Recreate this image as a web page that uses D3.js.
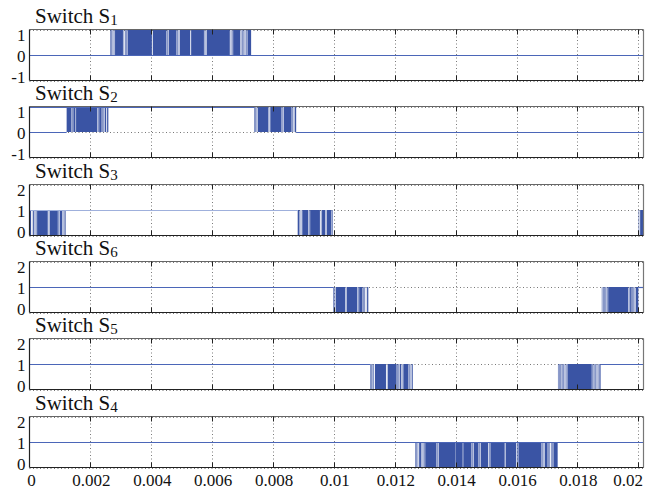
<!DOCTYPE html>
<html>
<head>
<meta charset="utf-8">
<script src="https://cdn.jsdelivr.net/npm/d3@7/dist/d3.min.js"></script>
<style>
  html, body { margin: 0; padding: 0; background: #fff; }
  svg { display: block; }
</style>
</head>
<body>
<svg id="chart" width="665" height="488"></svg>
<script>
// ---- Data (time in milliseconds) ----
const panelNames = ["Switch S", "Switch S", "Switch S", "Switch S", "Switch S", "Switch S"];
const panelSubscripts = ["1", "2", "3", "6", "5", "4"];

const xTickValues = [0, 2, 4, 6, 8, 10, 12, 14, 16, 18, 20];
const xTickLabels = ["0", "0.002", "0.004", "0.006", "0.008", "0.01", "0.012", "0.014", "0.016", "0.018", "0.02"];
const xDomain = [0, 20.17];

const yTicksBipolar = [-1, 0, 1];
const yTicksUnipolar = [0, 1, 2];

// gate-pulse "on" intervals [start, end] (ms); pulses go between 0 and 1
const s1Pulses = [[2.65,2.67],[2.69,2.71],[2.73,2.75],[2.77,2.79],[2.81,3.07],[3.09,3.11],[3.14,3.16],[3.18,3.20],[3.22,4.02],[4.05,4.50],[4.53,4.55],[4.57,4.83],[4.85,4.87],[4.90,4.92],[4.94,5.28],[5.31,5.73],[5.75,5.77],[5.79,5.81],[5.83,6.58],[6.61,6.63],[6.65,6.67],[6.69,6.92],[6.94,6.96],[6.99,7.01],[7.03,7.05],[7.07,7.09],[7.12,7.14],[7.16,7.28]];
const s2Pulses = [[1.22,1.38],[1.40,1.42],[1.44,1.51],[1.53,2.23],[2.25,2.27],[2.29,2.37],[2.39,2.41],[2.43,2.45],[2.47,2.52],[2.55,2.59],
  [7.38,7.40],[7.42,7.44],[7.46,7.48],[7.50,7.85],[7.88,7.89],[7.91,8.28],[8.31,8.33],[8.35,8.61],[8.63,8.65],[8.68,8.70],[8.72,8.76]];
const s3Pulses = [[0,0.05],[0.08,0.09],[0.12,0.15],[0.17,0.19],[0.21,0.23],[0.25,0.60],[0.62,0.63],[0.66,0.93],[0.95,0.97],[0.99,1.07],[1.09,1.11],[1.13,1.15],[1.17,1.19],
  [8.81,8.87],[8.89,8.90],[8.93,8.94],[8.96,9.16],[9.18,9.20],[9.22,9.54],[9.57,9.59],[9.61,9.71],[9.73,9.75],[9.77,9.92],[9.94,9.96],
  [20.01,20.03],[20.06,20.17]];
const s6Pulses = [[9.98,10.00],[10.02,10.04],[10.06,10.37],[10.39,10.41],[10.43,10.77],[10.79,10.81],[10.83,10.94],[10.96,10.98],[11.00,11.02],[11.05,11.06],[11.09,11.13],
  [18.80,18.82],[18.84,18.86],[18.88,18.90],[18.92,18.94],[18.96,18.99],[19.01,19.67],[19.69,19.71],[19.73,19.78],[19.80,19.82],[19.84,19.86],[19.88,19.90],[19.92,20.00]];
const s5Pulses = [[11.19,11.21],[11.23,11.25],[11.27,11.29],[11.30,11.32],[11.35,11.71],[11.74,11.75],[11.77,12.06],[12.08,12.10],[12.12,12.14],[12.16,12.21],[12.23,12.25],[12.28,12.45],[12.47,12.49],[12.52,12.54],[12.56,12.59],
  [17.36,17.38],[17.40,17.42],[17.43,17.45],[17.48,17.51],[17.53,17.55],[17.58,17.60],[17.62,17.64],[17.67,18.47],[18.49,18.51],[18.53,18.56],[18.58,18.60],[18.63,18.65],[18.67,18.69],[18.72,18.76]];
const s4Pulses = [[12.67,12.69],[12.71,12.73],[12.75,12.77],[12.80,12.86],[12.88,12.90],[12.92,12.94],[12.96,12.98],[13.00,13.37],[13.40,13.42],[13.44,14.00],[14.01,14.23],[14.25,14.52],[14.54,14.56],[14.59,14.75],[14.77,14.79],[14.82,15.07],[15.10,15.12],[15.14,15.61],[15.64,15.99],[16.02,16.04],[16.06,16.82],[16.85,16.87],[16.89,16.91],[16.93,17.02],[17.04,17.06],[17.08,17.10],[17.13,17.15],[17.17,17.19],[17.21,17.35]];

// steady signal levels outside bursts: [start, end, level]
const s1Levels = [[0, 20.17, 0]];
const s2Levels = [[0, 1.22, 0], [0, 7.38, 1], [8.76, 20.17, 0]];
const s3Levels = [[0, 8.81, 1]];
const s6Levels = [[0, 9.98, 1], [20.00, 20.17, 1]];
const s5Levels = [[0, 11.19, 1], [18.76, 20.17, 1]];
const s4Levels = [[0, 20.17, 1]];

const panelPulses = [s1Pulses, s2Pulses, s3Pulses, s6Pulses, s5Pulses, s4Pulses];
const panelLevels = [s1Levels, s2Levels, s3Levels, s6Levels, s5Levels, s4Levels];
const panelYTicks = [yTicksBipolar, yTicksBipolar, yTicksUnipolar, yTicksUnipolar, yTicksUnipolar, yTicksUnipolar];

// ---- Drawing ----
const svg = d3.select("#chart");
const left = 29.5, right = 643.5;
const panelH = 51;
const panelTops = d3.range(6).map(i => Math.round(29 + i * 77.3) + 0.5);
const serif = "'Liberation Serif', 'Times New Roman', serif";
const pulseColor = "#3a54a4";
const lineColor = "#4b66b8";
const lightLine = "#9fb0dc";

const x = d3.scaleLinear().domain(xDomain).range([left, right]);

panelTops.forEach((top, i) => {
  const ticks = panelYTicks[i];
  const y = d3.scaleLinear().domain(d3.extent(ticks)).range([top + panelH, top]);
  const g = svg.append("g");

  // vertical grid (dotted)
  g.selectAll(".vg").data(xTickValues.slice(1)).enter().append("line")
    .attr("x1", d => Math.round(x(d)) + 0.5).attr("x2", d => Math.round(x(d)) + 0.5)
    .attr("y1", top).attr("y2", top + panelH)
    .attr("stroke", "#7a7a7a").attr("stroke-width", 1).attr("stroke-dasharray", "1,2.5");
  // horizontal grid (dotted)
  g.selectAll(".hg").data(ticks).enter().append("line")
    .attr("x1", left).attr("x2", right)
    .attr("y1", d => Math.round(y(d)) + 0.5).attr("y2", d => Math.round(y(d)) + 0.5)
    .attr("stroke", "#777").attr("stroke-width", 1).attr("stroke-dasharray", "1,2.5");

  // pulses
  g.selectAll(".p").data(panelPulses[i]).enter().append("rect")
    .attr("x", d => x(d[0]))
    .attr("width", d => Math.max(0.3, x(d[1]) - x(d[0])))
    .attr("y", y(1))
    .attr("height", y(0) - y(1))
    .attr("fill", pulseColor);

  // level lines
  g.selectAll(".l").data(panelLevels[i]).enter().append("line")
    .attr("x1", d => x(d[0])).attr("x2", d => x(d[1]))
    .attr("y1", d => Math.round(y(d[2])) + 0.5).attr("y2", d => Math.round(y(d[2])) + 0.5)
    .attr("stroke", i === 2 ? lightLine : lineColor).attr("stroke-width", 1.2);

  // frame
  g.append("line").attr("x1", left).attr("x2", right).attr("y1", top).attr("y2", top)
    .attr("stroke", "#666").attr("stroke-width", 1.2);
  g.append("line").attr("x1", right).attr("x2", right).attr("y1", top).attr("y2", top + panelH)
    .attr("stroke", "#777").attr("stroke-width", 1.2);
  g.append("line").attr("x1", left).attr("x2", right).attr("y1", top + panelH).attr("y2", top + panelH)
    .attr("stroke", "#222").attr("stroke-width", 1.2);
  g.append("line").attr("x1", left).attr("x2", left).attr("y1", top).attr("y2", top + panelH)
    .attr("stroke", "#222").attr("stroke-width", 1.2);

  // tick marks (inward)
  xTickValues.slice(1).forEach(v => {
    const xx = Math.round(x(v)) + 0.5;
    g.append("line").attr("x1", xx).attr("x2", xx).attr("y1", top).attr("y2", top + 5).attr("stroke", "#222");
    g.append("line").attr("x1", xx).attr("x2", xx).attr("y1", top + panelH - 5).attr("y2", top + panelH).attr("stroke", "#222");
  });

  // y tick labels (MATLAB-style, end labels pulled inside)
  const yAdj = [6, 1, -3.5];
  g.selectAll(".yl").data(ticks.slice().reverse()).enter().append("text")
    .attr("x", 25.5)
    .attr("y", (d, k) => y(d) + yAdj[k])
    .attr("dy", "0.34em")
    .attr("text-anchor", "end")
    .attr("font-family", serif).attr("font-size", 17).attr("fill", "#111")
    .text(d => d);

  // title
  const t = g.append("text")
    .attr("x", 35).attr("y", top - 6.5)
    .attr("font-family", serif).attr("font-size", 21).attr("fill", "#111")
    .text(panelNames[i]);
  t.append("tspan").attr("font-size", 15).attr("dy", 2).text(panelSubscripts[i]);

  // x tick labels on bottom panel
  if (i === 5) {
    g.selectAll(".xl").data(xTickValues).enter().append("text")
      .attr("x", (d, k) => k === xTickValues.length - 1 ? right - 0.5 : x(d) + (k === 0 ? 2 : 1))
      .attr("y", top + panelH + 18)
      .attr("text-anchor", (d, k) => k === xTickValues.length - 1 ? "end" : "middle")
      .attr("font-family", serif).attr("font-size", 17).attr("fill", "#111")
      .text((d, k) => xTickLabels[k]);
  }
});
</script>
</body>
</html>
